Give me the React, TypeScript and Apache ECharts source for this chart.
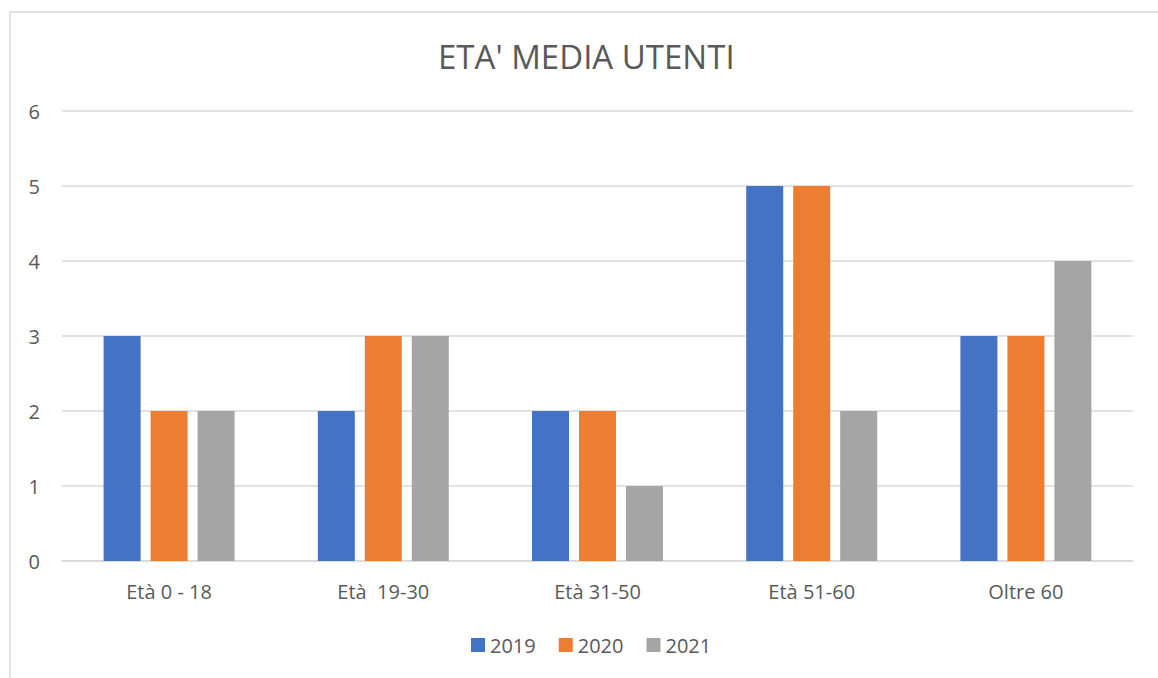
import React, { useEffect, useRef } from "react";
import * as echarts from "echarts";

const categories = ["Età 0 - 18", "Età  19-30", "Età 31-50", "Età 51-60", "Oltre 60"];
const seriesNames = ["2019", "2020", "2021"];
const values2019 = [3, 2, 2, 5, 3];
const values2020 = [2, 3, 2, 5, 3];
const values2021 = [2, 3, 1, 2, 4];
const yTicks = [0, 1, 2, 3, 4, 5, 6];
const colors = ["#4472C4", "#ED7D31", "#A5A5A5"];

const FONT = "'Open Sans', sans-serif";

export default function App() {
  const ref = useRef<HTMLDivElement>(null);
  useEffect(() => {
    if (!ref.current) return;
    const chart = echarts.init(ref.current, undefined, { renderer: "svg" });
    const data = [values2019, values2020, values2021];
    chart.setOption({
      animation: false,
      backgroundColor: "#ffffff",
      title: {
        text: "ETA' MEDIA UTENTI",
        left: 433,
        top: 35,
        textStyle: { fontFamily: FONT, fontSize: 33, fontWeight: "normal", color: "#595959" },
      },
      graphic: [
        {
          type: "rect",
          shape: { x: 10, y: 12, width: 1170, height: 700 },
          style: { fill: "none", stroke: "#d9d9d9", lineWidth: 1.5 },
          silent: true,
        },
      ],
      legend: {
        data: seriesNames,
        left: 466,
        top: 630,
        itemWidth: 14,
        itemHeight: 14,
        itemGap: 23,
        icon: "rect",
        textStyle: { fontFamily: FONT, fontSize: 20, color: "#595959" },
      },
      grid: { left: 62, right: 25, top: 111, bottom: 117, containLabel: false },
      xAxis: {
        type: "category",
        data: categories,
        axisLine: { lineStyle: { color: "#d9d9d9", width: 1.5 } },
        axisTick: { show: false },
        axisLabel: { fontFamily: FONT, fontSize: 20, color: "#595959", margin: 20 },
      },
      yAxis: {
        type: "value",
        min: yTicks[0],
        max: yTicks[yTicks.length - 1],
        interval: 1,
        axisLine: { show: false },
        axisTick: { show: false },
        splitLine: { lineStyle: { color: "#d9d9d9", width: 1.5 } },
        axisLabel: { fontFamily: FONT, fontSize: 20, color: "#595959", margin: 22 },
      },
      series: seriesNames.map((name, i) => ({
        name,
        type: "bar",
        data: data[i],
        barWidth: 37,
        barGap: "27%",
        itemStyle: { color: colors[i] },
      })),
    });
    return () => chart.dispose();
  }, []);
  return (
    <div
      ref={ref}
      style={{ position: "fixed", left: 0, top: 0, width: 1158, height: 678 }}
    />
  );
}
